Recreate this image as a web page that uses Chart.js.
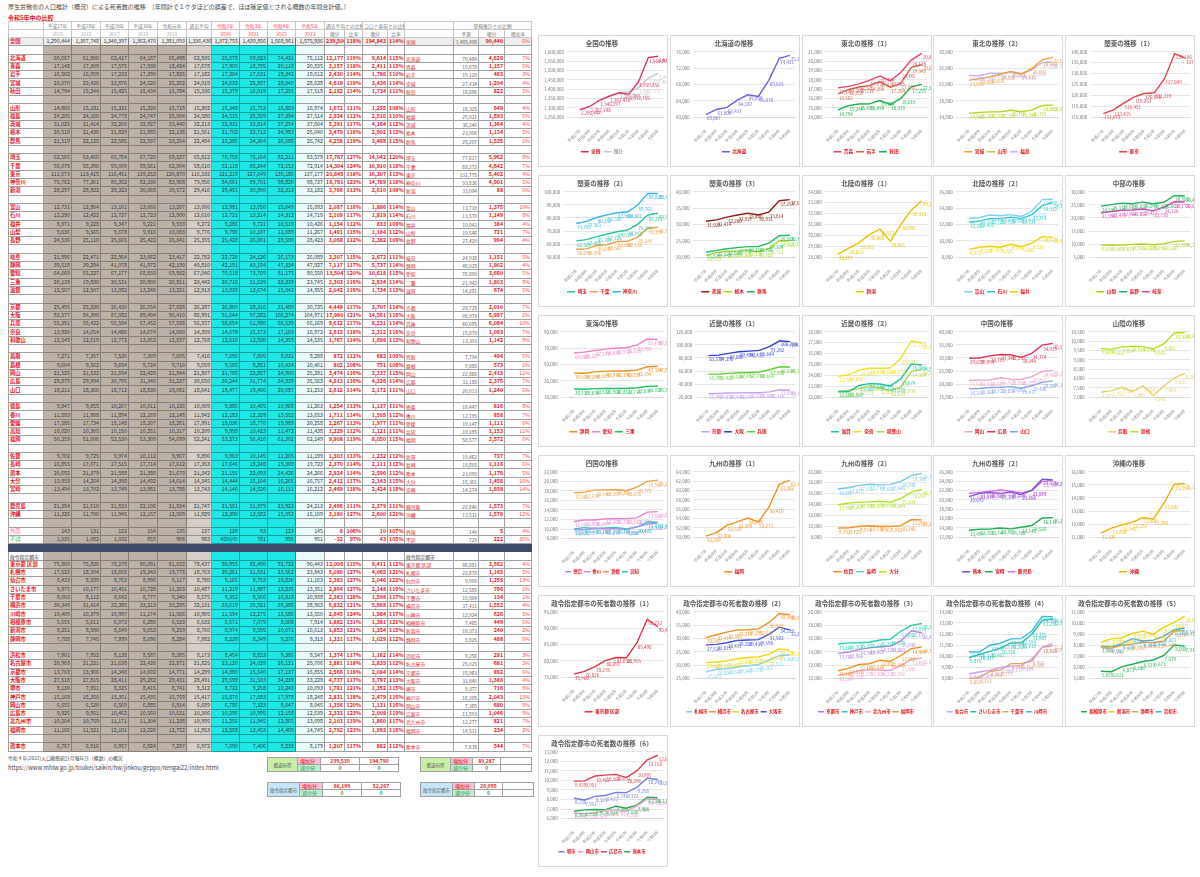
<!DOCTYPE html>
<html>
<head>
<meta charset="utf-8">
<script src="https://cdn.jsdelivr.net/npm/chart.js@4.4.1/dist/chart.umd.min.js"></script>
<style>
  body { margin: 0; background: #fff; width: 1200px; height: 877px; position: relative; overflow: hidden;
         font-family: "Noto Sans CJK JP", "Noto Sans", sans-serif; }
  .txt { position: absolute; white-space: nowrap; }
  #tbl { position: absolute; left: 8px; top: 21px; width: 523px; border-collapse: collapse; table-layout: fixed; }
  #tbl td { height: 8.3px; line-height: 7px; font-size: 5.3px; padding: 0 1px; border: 1px solid #a0a0a0;
            white-space: nowrap; overflow: hidden; text-align: right; color: #333; box-sizing: border-box; }
  #tbl tr.hd td { height: 7px; text-align: center; color: #777; font-size: 4.8px; border-color: #c8c8c8; }
  #tbl td.nm { text-align: left; color: #e8141e; font-weight: bold; }
  #tbl td.nm2 { text-align: left; color: #e8141e; font-size: 4.8px; }
  #tbl td.old { background: #bdb2a7; border-color: #877d74; }
  #tbl td.avg { background: #d6cfc8; border-color: #9a928a; }
  #tbl td.cov { background: #1ee8e6; border-color: #119a98; }
  #tbl td.now { background: #e9fbfb; }
  #tbl td.red { color: #e8141e; font-weight: bold; }
  #tbl td.fc { color: #555; font-size: 4.8px; }
  #tbl td.rt { color: #f04a4a; }
  #tbl tr.all td { background: #eeeeee; }
  #tbl tr.band td { background: #3b4a6b; border-color: #3b4a6b; }
  .cbox { position: absolute; width: 130px; height: 132px; border: 1px solid #d9d9d9; box-sizing: border-box; background: #fff; }
  .sum { position: absolute; border-collapse: collapse; table-layout: fixed; }
  .sum td { border: 1px solid #a0a0a0; height: 6px; line-height: 6px; font-size: 5px; padding: 0 2px; text-align: center; white-space: nowrap; }
</style>
</head>
<body>
<div class="txt" style="left:8px;top:2px;font-size:6px;color:#444">厚生労働省の人口推計（概況）による死者数の推移　［年間計で１ケタほどの誤差で、ほぼ確定値とされる概数の年間合計値。］</div>
<div class="txt" style="left:8px;top:13px;font-size:6px;color:#e8141e;font-weight:bold">令和5年中の比較</div>
<table id="tbl"></table>
<div class="txt" style="left:8px;top:754px;font-size:4.8px;color:#444">令和４年(2022)人口動態統計月報年計（概数）の概況</div>
<div class="txt" style="left:8px;top:763px;font-size:5.8px;color:#444">https://www.mhlw.go.jp/toukei/saikin/hw/jinkou/geppo/nengai22/index.html</div>
<div id="sums"></div>
<div id="charts"></div>

<script>
// --- data: deaths per year, 2015-2019 then 2020-2023 ---
const xLabels = ['平成27年', '平成28年', '平成29年', '平成30年', '令和元年', '令和2年', '令和3年', '令和4年', '令和5年'];
const headerEra = ['平成27年', '平成28年', '平成29年', '平成30年', '令和元年', '令和2年', '令和3年', '令和4年', '令和5年'];
const headerYear = ['2015', '2016', '2017', '2018', '2019', '2020', '2021', '2022', '2023'];

const zenkoku = [1290444, 1307748, 1340397, 1362470, 1381093, 1372755, 1439856, 1568961, 1575936];
const suikei = [null, null, null, null, 1381093, 1387000, 1408771, 1459468, 1485496];
const zenkokuForecast = 1485496;

const hokkaido = [60667, 61906, 62417, 64187, 65498, 65078, 69023, 74431, 75112];
const aomori = [17148, 17309, 17575, 17936, 18424, 17905, 18785, 20118, 20835];
const iwate = [16502, 16959, 17232, 17390, 17826, 17204, 17631, 19342, 19612];
const miyagi = [23070, 23426, 23876, 24520, 25202, 24632, 25897, 28040, 28638];
const akita = [14794, 15244, 15425, 15434, 15784, 15379, 16019, 17255, 17518];
const yamagata = [14960, 15181, 15331, 15320, 15719, 15348, 15753, 16883, 16974];
const fukushima = [24205, 24166, 24778, 24747, 25004, 24515, 25559, 27394, 27514];
const ibaraki = [31025, 31414, 32260, 32927, 33440, 32931, 33814, 37254, 37604];
const tochigi = [20519, 21436, 21829, 21885, 22138, 21702, 22712, 24983, 25040];
const gunma = [21519, 22125, 22585, 22937, 23254, 23286, 24304, 26588, 26742];
const saitama = [62565, 63466, 65764, 67726, 69537, 70758, 75164, 82211, 83579];
const chiba = [56079, 56396, 59009, 59561, 62004, 62118, 65244, 72153, 72914];
const tokyo = [111673, 113415, 116451, 119253, 120870, 121219, 127649, 139186, 137177];
const kanagawa = [75762, 77361, 80352, 82336, 83968, 84601, 89701, 98820, 98737];
const niigata = [28297, 28822, 29323, 30068, 30572, 29455, 30990, 32313, 33182];
const toyama = [12731, 12864, 13161, 13066, 13207, 12981, 13650, 15049, 15093];
const ishikawa = [12280, 12422, 12727, 12723, 12900, 12721, 13214, 14312, 14719];
const fukui = [8971, 9228, 9347, 9221, 9593, 9286, 9721, 10519, 10426];
const yamanashi = [9636, 9565, 9678, 9916, 10083, 9796, 10107, 11089, 11267];
const nagano = [24536, 25110, 25665, 25422, 26041, 25428, 26001, 28500, 28423];
const gifu = [21996, 22471, 22964, 23062, 23417, 22720, 24126, 26173, 26089];
const shizuoka = [39518, 39294, 41078, 41972, 42190, 42191, 43194, 47334, 47927];
const aichi = [64060, 65227, 67177, 68833, 69932, 70518, 73769, 81175, 80550];
const mie = [20139, 19830, 20531, 20900, 20811, 20716, 21639, 23339, 23745];
const shiga = [12507, 12507, 13082, 13246, 13221, 13039, 13674, 15043, 14955];
const kyoto = [25495, 25830, 26430, 26654, 27028, 26860, 28316, 31489, 30735];
const osaka = [83577, 84390, 87082, 89494, 90410, 91644, 97282, 106274, 104971];
const hyogo = [55391, 55422, 56584, 57452, 57938, 58654, 61980, 66539, 66169];
const nara = [13920, 14054, 14486, 14674, 14660, 14678, 15573, 17163, 16972];
const wakayama = [12549, 12619, 12772, 13062, 12837, 12610, 12930, 14359, 14535];
const tottori = [7271, 7357, 7536, 7309, 7605, 7096, 7605, 8031, 8288];
const shimane = [9604, 9562, 9694, 9724, 9710, 9585, 9851, 10434, 10461];
const okayama = [21525, 21532, 21604, 22429, 21944, 21788, 22857, 24900, 25281];
const hiroshima = [29879, 29994, 30795, 31346, 31237, 30244, 31774, 34939, 35563];
const yamaguchi = [18211, 18366, 18712, 18836, 19081, 18477, 19406, 20687, 21253];
const tokushima = [9847, 9855, 10207, 10011, 10126, 9886, 10465, 10968, 11263];
const kagawa = [11593, 11908, 11894, 12169, 12148, 12183, 12329, 13552, 13653];
const ehime = [17585, 17734, 18148, 18207, 18281, 18036, 18770, 19989, 20258];
const kochi = [10020, 10305, 10150, 10251, 10317, 9998, 10423, 11472, 11438];
const fukuoka = [50259, 51006, 52530, 53309, 54099, 53273, 56410, 61302, 62149];
const saga = [9702, 9725, 9974, 10112, 9967, 9963, 10145, 11205, 11199];
const nagasaki = [16855, 17071, 17515, 17714, 17612, 17646, 18248, 19308, 19723];
const kumamoto = [20692, 21379, 21588, 21380, 21670, 21156, 22093, 24426, 24266];
const oita = [13958, 14264, 14398, 14492, 14614, 14444, 15104, 16265, 16757];
const miyazaki = [13494, 13702, 13749, 13981, 13788, 14140, 14520, 16111, 16212];
const kagoshima = [21354, 21610, 21833, 22106, 21834, 21501, 21979, 23923, 24213];
const okinawa = [11326, 11706, 11945, 12157, 12509, 12390, 13582, 15053, 15109];
const gaikoku = [143, 131, 122, 154, 135, 120, 93, 123, 145];
const fusho = [1035, 1082, 1032, 859, 908, null, 781, 995, 951];

const cTokyo23 = [75960, 76826, 78278, 80091, 81032, 80955, 85490, 92722, 90443];
const cSapporo = [17523, 18504, 18668, 19343, 19778, 20261, 21931, 23562, 23843];
const cSendai = [8433, 8589, 8763, 8996, 9117, 9165, 9753, 10830, 11163];
const cSaitama = [9875, 10177, 10451, 10728, 11203, 11219, 11987, 13235, 13351];
const cChiba = [8003, 8112, 8642, 8777, 9340, 9352, 9566, 10818, 10938];
const cYokohama = [30349, 31414, 32385, 33213, 33295, 33619, 35921, 39388, 38963];
const cKawasaki = [10409, 10379, 10997, 11174, 11566, 11594, 12275, 13586, 13550];
const cSagamihara = [5655, 5611, 6073, 6286, 6533, 6671, 7079, 8008, 7914];
const cNiigata = [8251, 8590, 8649, 9053, 9259, 8974, 9595, 10071, 10613];
const cShizuoka = [7788, 7745, 7999, 8096, 8284, 8239, 8349, 9276, 9313];
const cHamamatsu = [7901, 7852, 8138, 8587, 8385, 8454, 8823, 9386, 9547];
const cNagoya = [20968, 21221, 21638, 22426, 22871, 23120, 24029, 26121, 25706];
const cKyoto = [13768, 13966, 14340, 14602, 14771, 14880, 15640, 17137, 16855];
const cOsaka = [27518, 27815, 28411, 29282, 29431, 29598, 31503, 34239, 33228];
const cSakai = [8130, 7951, 8325, 8415, 8741, 8722, 9258, 10243, 10093];
const cKobe = [15168, 15350, 15361, 15435, 15769, 15870, 17083, 17978, 18248];
const cOkayama = [6555, 6520, 6569, 6885, 6914, 6786, 7323, 8047, 8045];
const cHiroshima = [9925, 9951, 10462, 10560, 10631, 10296, 10995, 12158, 12639];
const cKitakyushu = [10504, 10759, 11171, 11304, 11238, 11256, 11945, 12865, 13098];
const cFukuoka = [11166, 11521, 12101, 12226, 12752, 12588, 13453, 14469, 14745];
const cKumamoto = [6767, 6916, 6957, 6924, 7297, 7090, 7406, 8238, 8179];

// simple-projection column (単純推計), in table order
const forecastPref = [70484, 19678, 19129, 27434, 16696, 16325, 25921, 36240, 23906, 25207,
  77617, 68272, 131775, 93836, 33094, 13718, 13570, 10042, 10546, 27429,
  24938, 46025, 76890, 21942, 14281, 28725, 98974, 60085, 15879, 13393,
  7794, 9888, 22868, 33188, 20013, 10447, 12795, 19147, 10285, 58577,
  10462, 18605, 23090, 15301, 14274, 22640, 13531, 140, 729];
const forecastCity = [86881, 22678, 9908, 12585, 10804, 37411, 12924, 7465, 10373, 8825,
  9256, 25025, 15963, 31840, 9377, 16205, 7365, 11593, 12277, 14511, 7635];

// totals boxes under the table
const sumPrefInc = [239530, 194790];
const sumPrefDec = [0, 0];
const sumPrefFcInc = [89287];
const sumPrefFcDec = [0];
const sumCityInc = [66199, 52267];
const sumCityDec = [0, 0];
const sumCityFcInc = [20095];
const sumCityFcDec = [0];

const prefBlocks = [
  ['北海道', '青森', '岩手', '宮城', '秋田'],
  ['山形', '福島', '茨城', '栃木', '群馬'],
  ['埼玉', '千葉', '東京', '神奈川', '新潟'],
  ['富山', '石川', '福井', '山梨', '長野'],
  ['岐阜', '静岡', '愛知', '三重', '滋賀'],
  ['京都', '大阪', '兵庫', '奈良', '和歌山'],
  ['鳥取', '島根', '岡山', '広島', '山口'],
  ['徳島', '香川', '愛媛', '高知', '福岡'],
  ['佐賀', '長崎', '熊本', '大分', '宮崎'],
  ['鹿児島', '沖縄']
];
const cityBlocks = [
  ['東京都 区部', '札幌市', '仙台市', 'さいたま市', '千葉市', '横浜市', '川崎市', '相模原市', '新潟市', '静岡市'],
  ['浜松市', '名古屋市', '京都市', '大阪市', '堺市', '神戸市', '岡山市', '広島市', '北九州市', '福岡市'],
  ['熊本市']
];

const series = {
  '全国': zenkoku, '推計': suikei,
  '北海道': hokkaido, '青森': aomori, '岩手': iwate, '宮城': miyagi, '秋田': akita,
  '山形': yamagata, '福島': fukushima, '茨城': ibaraki, '栃木': tochigi, '群馬': gunma,
  '埼玉': saitama, '千葉': chiba, '東京': tokyo, '神奈川': kanagawa, '新潟': niigata,
  '富山': toyama, '石川': ishikawa, '福井': fukui, '山梨': yamanashi, '長野': nagano,
  '岐阜': gifu, '静岡': shizuoka, '愛知': aichi, '三重': mie, '滋賀': shiga,
  '京都': kyoto, '大阪': osaka, '兵庫': hyogo, '奈良': nara, '和歌山': wakayama,
  '鳥取': tottori, '島根': shimane, '岡山': okayama, '広島': hiroshima, '山口': yamaguchi,
  '徳島': tokushima, '香川': kagawa, '愛媛': ehime, '高知': kochi, '福岡': fukuoka,
  '佐賀': saga, '長崎': nagasaki, '熊本': kumamoto, '大分': oita, '宮崎': miyazaki,
  '鹿児島': kagoshima, '沖縄': okinawa, '外国': gaikoku, '不詳': fusho,
  '東京都 区部': cTokyo23, '札幌市': cSapporo, '仙台市': cSendai, 'さいたま市': cSaitama,
  '千葉市': cChiba, '横浜市': cYokohama, '川崎市': cKawasaki, '相模原市': cSagamihara,
  '新潟市': cNiigata, '静岡市': cShizuoka, '浜松市': cHamamatsu, '名古屋市': cNagoya,
  '京都市': cKyoto, '大阪市': cOsaka, '堺市': cSakai, '神戸市': cKobe, '岡山市': cOkayama,
  '広島市': cHiroshima, '北九州市': cKitakyushu, '福岡市': cFukuoka, '熊本市': cKumamoto
};

const charts = [
  ['全国の推移', ['全国', '推計']],
  ['北海道の推移', ['北海道']],
  ['東北の推移（1）', ['青森', '岩手', '秋田']],
  ['東北の推移（2）', ['宮城', '山形', '福島']],
  ['関東の推移（1）', ['東京']],
  ['関東の推移（2）', ['埼玉', '千葉', '神奈川']],
  ['関東の推移（3）', ['茨城', '栃木', '群馬']],
  ['北陸の推移（1）', ['新潟']],
  ['北陸の推移（2）', ['富山', '石川', '福井']],
  ['中部の推移', ['山梨', '長野', '岐阜']],
  ['東海の推移', ['静岡', '愛知', '三重']],
  ['近畿の推移（1）', ['京都', '大阪', '兵庫']],
  ['近畿の推移（2）', ['滋賀', '奈良', '和歌山']],
  ['中国の推移', ['岡山', '広島', '山口']],
  ['山陰の推移', ['鳥取', '島根']],
  ['四国の推移', ['徳島', '香川', '愛媛', '高知']],
  ['九州の推移（1）', ['福岡']],
  ['九州の推移（2）', ['佐賀', '長崎', '大分']],
  ['九州の推移（2）', ['熊本', '宮崎', '鹿児島']],
  ['沖縄の推移', ['沖縄']],
  ['政令指定都市の死者数の推移（1）', ['東京都 区部']],
  ['政令指定都市の死者数の推移（2）', ['札幌市', '横浜市', '名古屋市', '大阪市']],
  ['政令指定都市の死者数の推移（3）', ['京都市', '神戸市', '北九州市', '福岡市']],
  ['政令指定都市の死者数の推移（4）', ['仙台市', 'さいたま市', '千葉市', '川崎市']],
  ['政令指定都市の死者数の推移（5）', ['相模原市', '新潟市', '静岡市', '浜松市']],
  ['政令指定都市の死者数の推移（6）', ['堺市', '岡山市', '広島市', '熊本市']]
];

const lineColor = {
  '全国': '#e0325f', '推計': '#c8c8c8', '北海道': '#6f5fe0',
  '青森': '#e8436b', '岩手': '#c8643c', '秋田': '#18b04a',
  '宮城': '#f0a030', '山形': '#b4d21e', '福島': '#c8b4f0', '東京': '#e0404a',
  '埼玉': '#20c8a0', '千葉': '#f0a040', '神奈川': '#30b4e8',
  '茨城': '#8b2010', '栃木': '#a8d820', '群馬': '#20c060', '新潟': '#e8c000',
  '富山': '#80d0f0', '石川': '#20d0c8', '福井': '#f0d000',
  '山梨': '#b0d020', '長野': '#20b060', '岐阜': '#e040b0',
  '静岡': '#f09020', '愛知': '#f080c8', '三重': '#20c060',
  '京都': '#c8a0f0', '大阪': '#3040d0', '兵庫': '#60d030',
  '滋賀': '#20c0a0', '奈良': '#f0e020', '和歌山': '#b0d840',
  '岡山': '#f0a0d0', '広島': '#e03050', '山口': '#80a0f0',
  '鳥取': '#e8d060', '島根': '#b0e020',
  '徳島': '#b090f0', '香川': '#f080d0', '愛媛': '#f0a040', '高知': '#20d0c0',
  '福岡': '#f09020', '佐賀': '#f09020', '長崎': '#70c8f0', '大分': '#b0e020',
  '熊本': '#7050e0', '宮崎': '#20b050', '鹿児島': '#e070e0', '沖縄': '#f0b000',
  '東京都 区部': '#e03040',
  '札幌市': '#80d0f0', '横浜市': '#f09020', '名古屋市': '#f0d800', '大阪市': '#4050e0',
  '京都市': '#b080e0', '神戸市': '#20d0b0', '北九州市': '#f0a0d0', '福岡市': '#f09020',
  '仙台市': '#d0a0f0', 'さいたま市': '#20c0a0', '千葉市': '#e0a060', '川崎市': '#30c0e0',
  '相模原市': '#20b050', '新潟市': '#f0d000', '静岡市': '#d0a050', '浜松市': '#40b0e0',
  '堺市': '#7080e0', '岡山市': '#f0a0d0', '広島市': '#e04050', '熊本市': '#20b050'
};

// ---------------- table ----------------
const FONT = '"Noto Sans CJK JP", "Noto Sans", sans-serif';
const colW = [35, 28, 29, 28, 29, 29, 25, 28, 28, 28, 29, 20, 18, 25, 17, 49, 25, 26, 27];
const fmt = v => v.toLocaleString('en-US');

function avgOf(a) {
  return Math.round((a[0] + a[1] + a[2] + a[3] + a[4]) / 5);
}

function colClass(i) {
  if (i >= 1 && i <= 5) return 'old';
  if (i == 6) return 'avg';
  if (i >= 7 && i <= 9) return 'cov';
  if (i == 10) return 'now';
  return '';
}

function blankRow(label, label2) {
  let h = '<tr>';
  for (let i = 0; i < 19; i++) {
    let c = colClass(i);
    let t = '';
    if (i == 0 && label) { t = label; c += '" style="text-align:left;color:#333;font-size:4.8px'; }
    if (i == 15 && label2) { t = label2; c += '" style="text-align:left;color:#333;font-size:4.8px'; }
    h += '<td class="' + c + '">' + t + '</td>';
  }
  return h + '</tr>';
}

function dataRow(name, vals, fc, extra) {
  const avg = avgOf(vals);
  const last = vals[8];
  const d1 = last - avg, d2 = last - vals[4], d3 = last - fc;
  let nameStyle = '';
  if (name == '外国') nameStyle = ' style="color:#ff6a88;font-weight:normal"';
  if (name == '不詳') nameStyle = ' style="color:#3cc060;font-weight:normal"';
  let h = '<tr' + (extra ? ' class="' + extra + '"' : '') + '>';
  h += '<td class="nm"' + nameStyle + '>' + name + '</td>';
  for (let i = 0; i < 5; i++) h += '<td class="old">' + fmt(vals[i]) + '</td>';
  h += '<td class="avg">' + fmt(avg) + '</td>';
  for (let i = 5; i < 8; i++) h += '<td class="cov">' + (vals[i] == null ? '#DIV/0!' : fmt(vals[i])) + '</td>';
  h += '<td class="now">' + fmt(last) + '</td>';
  h += '<td class="red">' + fmt(d1) + '</td>';
  h += '<td class="red">' + Math.round(last / avg * 100) + '%</td>';
  h += '<td class="red">' + fmt(d2) + '</td>';
  h += '<td class="red">' + Math.round(last / vals[4] * 100) + '%</td>';
  h += '<td class="nm2">' + name + '</td>';
  h += '<td class="fc">' + fmt(fc) + '</td>';
  h += '<td class="red">' + fmt(d3) + '</td>';
  h += '<td class="rt">' + Math.round(d3 / fc * 100) + '%</td>';
  return h + '</tr>';
}

function buildTable() {
  let h = '<colgroup>' + colW.map(w => '<col style="width:' + w + 'px">').join('') + '</colgroup>';
  // header rows
  h += '<tr class="hd"><td></td>';
  for (let i = 0; i < 5; i++) h += '<td>' + headerEra[i] + '</td>';
  h += '<td>過去平均</td>';
  for (let i = 5; i < 9; i++) h += '<td style="color:#ff3b5c">' + headerEra[i] + '</td>';
  h += '<td colspan="2">過去平均との比較</td><td colspan="2">コロナ直前との比較</td><td></td><td colspan="3">単純推計との比較</td></tr>';
  h += '<tr class="hd"><td></td>';
  for (let i = 0; i < 5; i++) h += '<td style="color:#aaa">' + headerYear[i] + '</td>';
  h += '<td></td>';
  for (let i = 5; i < 9; i++) h += '<td style="color:#ff3b5c">' + headerYear[i] + '</td>';
  h += '<td>増分</td><td>比率</td><td>増分</td><td>比率</td><td></td><td>予測</td><td>増分</td><td>増加率</td></tr>';

  h += dataRow('全国', zenkoku, zenkokuForecast, 'all');
  let k = 0;
  prefBlocks.forEach(block => {
    h += blankRow();
    block.forEach(n => { h += dataRow(n, series[n], forecastPref[k]); k++; });
  });
  h += blankRow();
  h += dataRow('外国', gaikoku, forecastPref[k++]);
  h += dataRow('不詳', fusho, forecastPref[k++]);
  h += '<tr class="band"><td colspan="19"></td></tr>';
  h += blankRow('政令指定都市', '政令指定都市');
  k = 0;
  cityBlocks.forEach((block, bi) => {
    if (bi > 0) h += blankRow();
    block.forEach(n => { h += dataRow(n, series[n], forecastCity[k]); k++; });
  });
  document.getElementById('tbl').innerHTML = h;
}
buildTable();

// ---------------- total boxes ----------------
function sumBox(x, y, label, labelBg, inc, dec) {
  const cols = inc.length == 2 ? [30, 23, 39, 39] : [30, 22, 28, 31];
  let h = '<table class="sum" style="left:' + x + 'px;top:' + y + 'px">';
  h += '<colgroup>' + cols.map(w => '<col style="width:' + w + 'px">').join('') + '</colgroup>';
  h += '<tr><td rowspan="2" style="background:' + labelBg + ';color:#555;font-size:4.5px">' + label + '</td>';
  h += '<td style="background:#f8c0d4;color:#e8141e;text-align:left">増加分</td>';
  for (let i = 0; i < 2; i++) h += '<td style="color:#e8141e;font-weight:bold">' + (inc[i] != null ? fmt(inc[i]) : '') + '</td>';
  h += '</tr><tr><td style="background:#b8f0cc;color:#3a8a5a;text-align:left">減少分</td>';
  for (let i = 0; i < 2; i++) h += '<td style="color:#20a050;font-weight:bold">' + (dec[i] != null ? fmt(dec[i]) : '') + '</td>';
  return h + '</tr></table>';
}
document.getElementById('sums').innerHTML =
  sumBox(267, 757, '都道府県', '#c8f0a8', sumPrefInc, sumPrefDec) +
  sumBox(420, 757, '都道府県', '#c8f0a8', sumPrefFcInc, sumPrefFcDec) +
  sumBox(267, 782, '政令指定都市', '#c4e6f8', sumCityInc, sumCityDec) +
  sumBox(420, 782, '政令指定都市', '#c4e6f8', sumCityFcInc, sumCityFcDec);

// ---------------- charts ----------------
Chart.defaults.font.family = FONT;

const valueLabels = {
  id: 'valueLabels',
  afterDatasetsDraw(chart) {
    const ctx = chart.ctx;
    ctx.save();
    ctx.font = '4.5px ' + FONT;
    ctx.textBaseline = 'middle';
    chart.data.datasets.forEach((ds, i) => {
      const meta = chart.getDatasetMeta(i);
      ctx.fillStyle = ds.borderColor;
      meta.data.forEach((pt, j) => {
        const v = ds.data[j];
        if (v == null) return;
        ctx.fillText(fmt(v), pt.x + 1, pt.y + 4);
      });
    });
    ctx.restore();
  }
};

const colX = [538, 670, 802, 933, 1065];
const rowY = [35, 175, 315, 455, 595, 735];
const holder = document.getElementById('charts');

charts.forEach((def, idx) => {
  const box = document.createElement('div');
  box.className = 'cbox';
  box.style.left = colX[idx % 5] + 'px';
  box.style.top = rowY[Math.floor(idx / 5)] + 'px';
  const cv = document.createElement('canvas');
  box.appendChild(cv);
  holder.appendChild(box);

  // four-entry legends need to squeeze onto one line
  const many = def[1].length > 3;

  new Chart(cv.getContext('2d'), {
    type: 'line',
    data: {
      labels: xLabels,
      datasets: def[1].map(n => ({
        label: n,
        data: series[n],
        borderColor: lineColor[n],
        backgroundColor: lineColor[n],
        borderWidth: 1.4,
        pointRadius: 0,
        tension: 0,
        fill: false
      }))
    },
    options: {
      responsive: true,
      maintainAspectRatio: false,
      animation: false,
      layout: { padding: { left: 2, right: 4, top: 0, bottom: 2 } },
      plugins: {
        title: { display: true, text: def[0], color: '#595959', font: { size: 6.5 }, padding: { top: 4, bottom: 4 } },
        legend: {
          position: 'bottom',
          labels: {
            boxWidth: many ? 6 : 8, boxHeight: 1.5, padding: many ? 2 : 3,
            font: { size: many ? 4.4 : 4.7, weight: 'bold' },
            generateLabels: chart => Chart.defaults.plugins.legend.labels.generateLabels(chart).map(it => {
              it.fontColor = it.text == '推計' ? '#999999' : '#e8141e';
              it.lineWidth = 0;
              return it;
            })
          }
        },
        tooltip: { enabled: false }
      },
      scales: {
        x: {
          offset: true,
          grid: { display: false },
          border: { color: '#d9d9d9' },
          ticks: { font: { size: 4 }, color: '#888', maxRotation: 45, minRotation: 45, autoSkip: false }
        },
        y: {
          grid: { color: '#e6e6e6' },
          border: { display: false },
          ticks: { font: { size: 4.5 }, color: '#777', maxTicksLimit: 9, callback: v => fmt(v) }
        }
      }
    },
    plugins: [valueLabels]
  });
});
</script>
</body>
</html>
